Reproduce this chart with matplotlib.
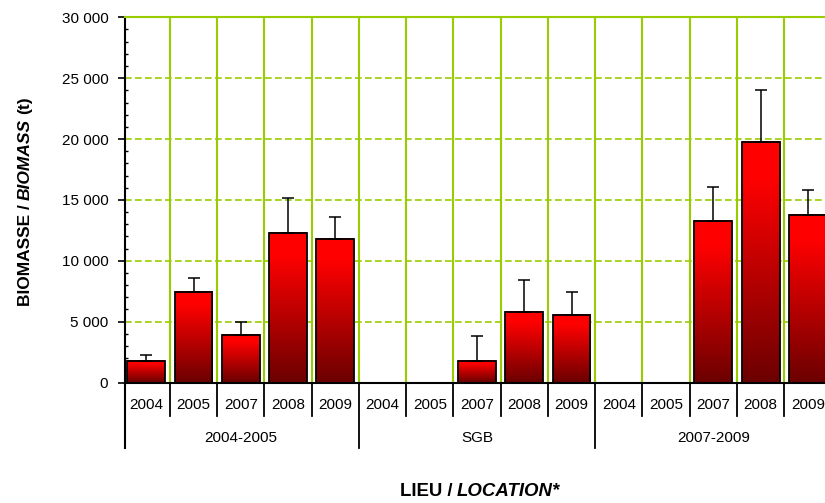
import numpy as np
import matplotlib
matplotlib.use("Agg")
import matplotlib.pyplot as plt
from matplotlib import font_manager
from matplotlib.colors import LinearSegmentedColormap
from matplotlib.lines import Line2D
from matplotlib.ticker import MultipleLocator, FuncFormatter

# ---- data -------------------------------------------------------------
groups = ["2004-2005", "SGB", "2007-2009"]
years = ["2004", "2005", "2007", "2008", "2009"]

biomass_2004_2005 = [1800, 7400, 3900, 12250, 11800]
error_2004_2005 = [440, 1200, 1100, 2880, 1780]
biomass_sgb = [np.nan, np.nan, 1800, 5800, 5530]
error_sgb = [np.nan, np.nan, 2050, 2630, 1910]
biomass_2007_2009 = [np.nan, np.nan, 13230, 19720, 13750]
error_2007_2009 = [np.nan, np.nan, 2870, 4330, 2080]

# ---- style ------------------------------------------------------------
plt.rcParams["font.family"] = ["Liberation Sans", "DejaVu Sans"]
names = {f.name for f in font_manager.fontManager.ttflist}
NARROW = "Liberation Sans Narrow" if "Liberation Sans Narrow" in names else "Liberation Sans"
HAS_NARROW = NARROW == "Liberation Sans Narrow"

GREEN = "#99cc00"
W, H = 825, 503
fig = plt.figure(figsize=(W / 100, H / 100), dpi=100)
ax = fig.add_axes([125 / W, 1 - 382.5 / H, 706.5 / W, 365.2 / H])

values = np.array(biomass_2004_2005 + biomass_sgb + biomass_2007_2009, float)
errors = np.array(error_2004_2005 + error_sgb + error_2007_2009, float)
x = np.arange(len(values))
has = ~np.isnan(values)

# bars with a vertical dark-to-bright red gradient
cmap = LinearSegmentedColormap.from_list(
    "redgrad", [(0.0, "#6c0000"), (0.85, "#ff0000"), (1.0, "#ff0000")])
grad = np.linspace(0, 1, 256).reshape(-1, 1)
width = 0.8
bars = ax.bar(x[has], values[has], width=width, facecolor="none",
              edgecolor="black", linewidth=1.3, zorder=3)
for rect in bars:
    x0, h = rect.get_x(), rect.get_height()
    ax.imshow(grad, cmap=cmap, origin="lower", aspect="auto",
              extent=[x0, x0 + width, 0, h], zorder=2.5,
              interpolation="bilinear")

ax.errorbar(x[has], values[has],
            yerr=[np.zeros(has.sum()), errors[has]],
            fmt="none", ecolor="black", elinewidth=1.1, capsize=4,
            capthick=1.1, zorder=2.8)

ax.set_xlim(-0.45, len(values) - 0.5)
ax.set_ylim(0, 30000)

# axes frame
for side in ("left", "bottom"):
    ax.spines[side].set_color("black")
    ax.spines[side].set_linewidth(1.5)
ax.spines["top"].set_color(GREEN)
ax.spines["top"].set_linewidth(1.5)
ax.spines["right"].set_visible(False)

# y axis
ax.yaxis.set_major_locator(MultipleLocator(5000))
ax.yaxis.set_minor_locator(MultipleLocator(1000))
ax.yaxis.set_major_formatter(
    FuncFormatter(lambda v, _: f"{v:,.0f}".replace(",", " ")))
ax.tick_params(axis="y", which="major", direction="out", length=5,
               width=1.2, pad=7, labelsize=11, colors="black")
ax.tick_params(axis="y", which="minor", direction="in", length=2.5,
               width=1.0)

# x axis: category boundaries carry the vertical grid
ax.set_xticks([])
ax.set_xticks(np.arange(0.5, len(values) - 0.5, 1), minor=True)
ax.tick_params(axis="x", which="both", length=0, labelbottom=False)
ax.set_axisbelow(True)
ax.grid(True, which="minor", axis="x", color=GREEN, lw=1.5, ls="-")
ax.grid(True, which="major", axis="y", color=GREEN, lw=1.2,
        ls=(0, (4, 2)))

# two-level category labels
trans = ax.get_xaxis_transform()
ax_h = 365.2
yr_fs = 13 if HAS_NARROW else 11
for i in x:
    ax.text(i, -22.5 / ax_h, years[i % len(years)], transform=trans,
            ha="center", va="center", fontsize=yr_fs, family=NARROW,
            clip_on=False)
for g, name in enumerate(groups):
    ax.text(g * len(years) + (len(years) - 1) / 2, -55.5 / ax_h, name,
            transform=trans, ha="center", va="center", fontsize=yr_fs,
            family=NARROW, clip_on=False)
for k in range(len(values) - 1):
    b = k + 0.5
    group_edge = (k + 1) % len(years) == 0
    depth = 65.5 if group_edge else 33.5
    ax.add_line(Line2D([b, b], [0, -depth / ax_h], transform=trans,
                       color="black", lw=1.3, clip_on=False))
ax.add_line(Line2D([-0.45, -0.45], [0, -65.5 / ax_h], transform=trans,
                   color="black", lw=1.5, clip_on=False))

# axis titles with a bold-italic English part
renderer = fig.canvas.get_renderer()


def rich(pieces, px, py, vertical, fs):
    pos = py if vertical else px
    space = 0.25 * fs * 100 / 72
    for txt, style in pieces:
        t = fig.text((px if vertical else pos) / W,
                     (pos if vertical else py) / H, txt,
                     rotation=90 if vertical else 0,
                     rotation_mode="anchor", ha="left", va="baseline",
                     fontsize=fs, fontweight="bold", fontstyle=style,
                     family=NARROW)
        bb = t.get_window_extent(renderer=renderer)
        pos = (bb.y1 if vertical else bb.x1) + space


rich([("BIOMASSE /", "normal"), ("BIOMASS", "italic"), ("(t)", "normal")],
     29.5, H - 306, vertical=True, fs=15 if HAS_NARROW else 12.5)
rich([("LIEU /", "normal"), ("LOCATION*", "italic")],
     399.5, H - 496, vertical=False, fs=16 if HAS_NARROW else 13.4)

fig.savefig("out.png", dpi=100)
